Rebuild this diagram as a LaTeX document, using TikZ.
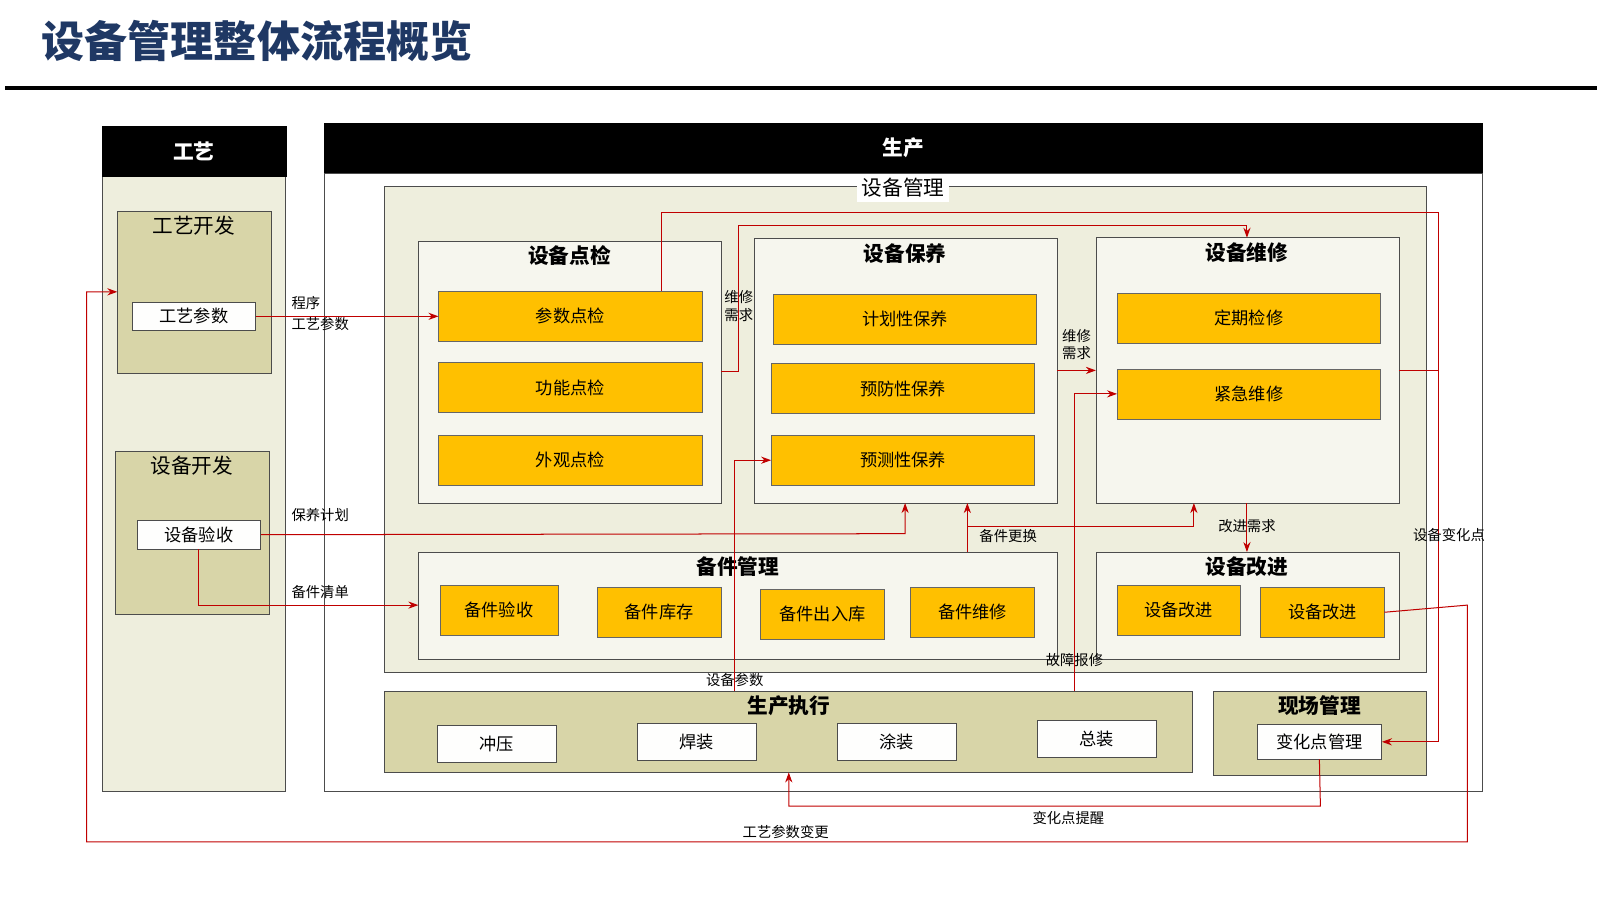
\documentclass[tikz,border=0pt]{standalone}
\usepackage{fontspec}
\setmainfont{Noto Sans CJK SC}
\usetikzlibrary{arrows.meta}
\definecolor{titleblue}{HTML}{1F3864}
\definecolor{paleback}{HTML}{EEEEDD}
\definecolor{khaki}{HTML}{D8D5A8}
\definecolor{itemorange}{HTML}{FFC000}
\definecolor{flowred}{HTML}{C00000}
\tikzset{
  header/.style={fill=black, text=white, font=\bfseries\Large},
  panel/.style={draw=black!70, fill=paleback},
  group/.style={draw=black!70, fill=khaki},
  whitebox/.style={draw=black!70, fill=white!95!paleback, font=\large},
  item/.style={draw=black!60, fill=itemorange, font=\large},
  flow/.style={draw=flowred, line width=0.7pt, -{Stealth[length=7pt,width=5pt]}},
  flowlabel/.style={font=\normalsize, inner sep=1pt},
  grouptitle/.style={font=\bfseries\Large, anchor=north},
}
% box from corners with centred label
\newcommand{\boxat}[5]{\draw[#1] (#2) rectangle (#3);
  \node[#5] (#4) at ($(#2)!0.5!(#3)$) {};}
\usetikzlibrary{calc}
\begin{document}
\begin{tikzpicture}[x=0.025cm,y=-0.025cm]
\useasboundingbox (0,0) rectangle (1568,880);
% title
\node[anchor=west, text=titleblue, font=\bfseries\fontsize{30}{32}\selectfont] (title) at (36,40) {设备管理整体流程概览};
\draw[line width=2.5pt] (5,86) -- (1565,86);
% process column
\draw[panel] (100,173) rectangle (280,775);
\fill[black] (100,123) rectangle (281,173);
\node[text=white, font=\bfseries\Large] (gy) at (190,148) {工艺};
\draw[group] (115,207) rectangle (266,366);
\node[grouptitle, font=\Large] (gykf) at (190,207) {工艺开发};
\draw[group] (113,442) rectangle (264,602);
\node[grouptitle, font=\Large] (sbkf) at (188,442) {设备开发};
\node[whitebox, minimum width=121*0.025cm, minimum height=27*0.025cm] (gycs) at (190,310) {工艺参数};
\node[whitebox, minimum width=121*0.025cm, minimum height=28*0.025cm] (sbys) at (195,524) {设备验收};
% production
\draw[draw=black!70, fill=white] (318,170) rectangle (1453,775);
\fill[black] (318,121) rectangle (1453,170);
\node[text=white, font=\bfseries\Large] (sc) at (885,145) {生产};
\draw[panel] (377,183) rectangle (1398,659);
\node[fill=white, font=\Large, inner sep=3pt] (sbgl) at (885,184) {设备管理};
% groups
\draw[panel, fill=white!50!paleback] (410,236) rectangle (707,493);
\node[grouptitle] (djt) at (558,236) {设备点检};
\draw[panel, fill=white!50!paleback] (739,234) rectangle (1036,493);
\node[grouptitle] (byt) at (887,234) {设备保养};
\draw[panel, fill=white!50!paleback] (1074,233) rectangle (1371,493);
\node[grouptitle] (wxt) at (1222,233) {设备维修};
\draw[panel, fill=white!50!paleback] (410,541) rectangle (1036,646);
\node[grouptitle] (bjt) at (723,541) {备件管理};
\draw[panel, fill=white!50!paleback] (1074,541) rectangle (1371,646);
\node[grouptitle] (gjt) at (1222,541) {设备改进};
% items
\tikzset{wide/.style={item, minimum width=258*0.025cm, minimum height=49*0.025cm},
         short/.style={item, minimum width=121*0.025cm, minimum height=49*0.025cm}}
\node[wide] (csdj) at (559,310) {参数点检};
\node[wide] (gndj) at (559,380) {功能点检};
\node[wide] (wgdj) at (559,451) {外观点检};
\node[wide] (jhby) at (887,313) {计划性保养};
\node[wide] (yfby) at (885,381) {预防性保养};
\node[wide] (ycby) at (885,451) {预测性保养};
\node[wide] (dqjx) at (1224,312) {定期检修};
\node[wide] (jjwx) at (1224,386) {紧急维修};
\node[short, minimum width=116*0.025cm] (bjys) at (489,598) {备件验收};
\node[short] (bjkc) at (646,600) {备件库存};
\node[short] (bjcr) at (806,602) {备件出入库};
\node[short] (bjwx) at (953,600) {备件维修};
\node[short] (gj1) at (1155,598) {设备改进};
\node[short] (gj2) at (1296,600) {设备改进};
% execution
\draw[group] (377,677) rectangle (1168,757);
\node[grouptitle] (scex) at (773,677) {生产执行};
\draw[group] (1189,677) rectangle (1398,760);
\node[grouptitle] (xcgl) at (1293,677) {现场管理};
\tikzset{shop/.style={whitebox, minimum width=116*0.025cm, minimum height=37*0.025cm}}
\node[shop] (cy) at (487,729) {冲压};
\node[shop] (hz) at (683,727) {焊装};
\node[shop] (tz) at (879,727) {涂装};
\node[shop] (zz) at (1075,724) {总装};
\node[shop, minimum width=122*0.025cm, minimum height=34*0.025cm] (bhd) at (1293,727) {变化点管理};
% flows
\draw[flow] (gycs.east) -- (csdj.west);
\node[flowlabel, anchor=west] (l1) at (284,297) {程序};
\node[flowlabel, anchor=west] (l2) at (284,318) {工艺参数};
\draw[flow] (csdj.north -| 648,0) -- (648,208) -- (1410,208) -- (1410,727) -- (bhd.east);
\draw[draw=flowred, line width=0.7pt] (1371,363) -- (1410,363);
\node[flowlabel] (l3) at (1420,524) {设备变化点};
\draw[flow] (707,364) -- (724,364) -- (724,221) -- (1222,221) -- (wxt.north);
\node[flowlabel, align=center] (l4) at (724,300) {维修\\需求};
\draw[flow] (1036,363) -- (1074,363);
\node[flowlabel, align=center] (l5) at (1055,338) {维修\\需求};
\draw[flow] (sbys.east) -- (887,523) -- (887,493);
\node[flowlabel, anchor=west] (l6) at (284,505) {保养计划};
\draw[flow] (sbys.south) -- (195,593) -- (410,593);
\node[flowlabel, anchor=west] (l7) at (284,580) {备件清单};
\draw[flow] (948,541) -- (948,493);
\draw[flow] (948,516) -- (1170,516) -- (1170,493);
\node[flowlabel] (l8) at (988,525) {备件更换};
\draw[flow] (1222,493) -- (1222,541);
\node[flowlabel] (l9) at (1222,516) {改进需求};
\draw[flow] (720,677) -- (720,451) -- (ycby.west);
\node[flowlabel] (l10) at (720,666) {设备参数};
\draw[flow] (1053,677) -- (1053,386) -- (jjwx.west);
\node[flowlabel] (l11) at (1053,647) {故障报修};
\draw[flow] (bhd.south) -- (1294,790) -- (773,790) -- (773,757);
\node[flowlabel] (l12) at (1047,802) {变化点提醒};
\draw[flow] (gj2.east) -- (1438,593) -- (1438,825) -- (85,825) -- (85,286) -- (115,286);
\node[flowlabel] (l13) at (770,815) {工艺参数变更};
\end{tikzpicture}
\end{document}
